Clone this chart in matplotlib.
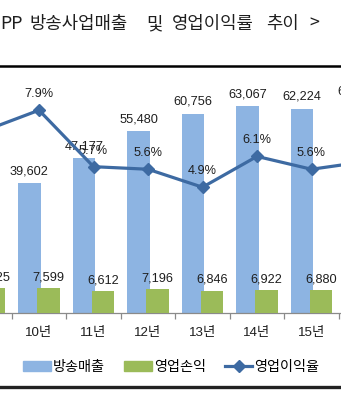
import matplotlib
matplotlib.use('Agg')
import matplotlib.pyplot as plt
from matplotlib.lines import Line2D
from matplotlib.patches import Patch
import numpy as np

plt.rcParams['font.family'] = ['Liberation Sans', 'Noto Sans CJK KR']

# data (09 and 16 are only partly in view)
years = ['09년', '10년', '11년', '12년', '13년', '14년', '15년', '16년']
sales = [34500, 39602, 47177, 55480, 60756, 63067, 62224, 63900]
profit = [7525, 7599, 6612, 7196, 6846, 6922, 6880, 6700]
margin = [7.1, 7.9, 5.7, 5.6, 4.9, 6.1, 5.6, 5.9]

title_words = ['PP', '방송사업매출', '및', '영업이익률', '추이', '>']
title_x = [0, 29, 146, 172, 266, 309]  # pixel starts

BLUE = '#8DB4E2'
GREEN = '#9BBB59'
LINE = '#3D6AA2'
TXT = '#1E1E1E'

W, H = 341, 400
fig = plt.figure(figsize=(W / 100, H / 100), dpi=100)

base_px = 313
top_px = 70
ax = fig.add_axes([0, (H - base_px) / H, 1, (base_px - top_px) / H])
ax2 = ax.twinx()

x = np.arange(len(years))
px_per_cat = 54.5
x0 = 1 - 39 / px_per_cat

bw = 0.41
off = 0.175
b1 = ax.bar(x - off, sales, bw, color=BLUE, zorder=2)
b2 = ax.bar(x + off, profit, bw, color=GREEN, zorder=3)
ax.set_ylim(0, (base_px - top_px) * 305)

for xi, v in zip(x, sales):
    ax.annotate(f'{v:,}', (xi - off, v), xytext=(0, 12), textcoords='offset pixels',
                ha='center', va='center', fontsize=9.2, color=TXT, annotation_clip=False)
for xi, v in zip(x, profit):
    ax.annotate(f'{v:,}', (xi + off, v), xytext=(0, 11), textcoords='offset pixels',
                ha='center', va='center', fontsize=9.2, color=TXT, annotation_clip=False)

ax2.plot(x, margin, color=LINE, lw=2.3, marker='D', ms=6, zorder=4)
ax2.set_ylim(0, (base_px - top_px) / 25.67)
for xi, v in zip(x, margin):
    ax2.annotate(f'{v:.1f}%', (xi, v), xytext=(0, 16), textcoords='offset pixels',
                 ha='center', va='center', fontsize=9.2, color=TXT, annotation_clip=False)

for a in (ax, ax2):
    for s in ('top', 'left', 'right'):
        a.spines[s].set_visible(False)
    a.set_facecolor('none')
ax2.spines['bottom'].set_visible(False)
ax2.set_yticks([])
ax.set_yticks([])
ax.spines['bottom'].set_color('#8A8A8A')
ax.spines['bottom'].set_linewidth(0.9)

ax.set_xticks(np.arange(len(years) + 1) - 0.5)
ax.set_xticklabels([])
ax.tick_params(axis='x', which='major', length=4, color='#8A8A8A', width=0.9)
ax.set_xticks(x, minor=True)
ax.set_xticklabels(years, minor=True, fontsize=9.6, color=TXT)
ax.tick_params(axis='x', which='minor', length=0, pad=10)
# set after plotting, twinx would autoscale it again
ax.set_xlim(x0, x0 + W / px_per_cat)

# title pieces
for w, xp in zip(title_words, title_x):
    fig.text(xp / W, 1 - 24 / H, w, ha='left', va='center', fontsize=12.8,
             color=TXT, family=['Noto Sans CJK KR', 'DejaVu Sans'])

# frame lines
fig.add_artist(Line2D([0, 1], [1 - 66 / H] * 2, color='black', lw=1.8, transform=fig.transFigure))
fig.add_artist(Line2D([0, 1], [1 - 387 / H] * 2, color='#222222', lw=2.4, transform=fig.transFigure))

handles = [Patch(color=BLUE), Patch(color=GREEN),
           Line2D([], [], color=LINE, lw=2.3, marker='D', ms=6)]
fig.legend(handles, ['방송매출', '영업손익', '영업이익율'], ncol=3, frameon=False,
           loc='center left', bbox_to_anchor=(23 / W, 1 - 367 / H), borderpad=0,
           borderaxespad=0, handlelength=1.95, handleheight=0.65, handletextpad=0.15,
           columnspacing=1.35, prop={'family': ['Noto Sans CJK KR'], 'size': 10.2})

fig.savefig('out.png', dpi=100)
